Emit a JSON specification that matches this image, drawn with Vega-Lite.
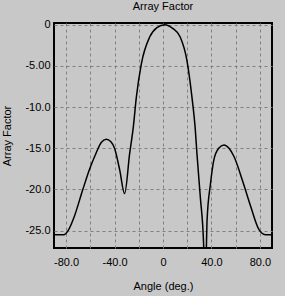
{
  "$schema": "https://vega.github.io/schema/vega-lite/v6.json",
  "width": 218,
  "height": 225,
  "autosize": {"type": "none"},
  "padding": {"left": 54, "top": 23, "right": 13, "bottom": 48},
  "background": "#c8c8c8",
  "title": {"text": "Array Factor", "fontSize": 11, "font": "Liberation Sans", "fontWeight": "normal", "color": "#000000", "offset": 7},
  "data": {"values": [
    {"angle": -90, "af": -25.5},
    {"angle": -82, "af": -25.5},
    {"angle": -78, "af": -24.9},
    {"angle": -73.3, "af": -23.3},
    {"angle": -66.4, "af": -20.1},
    {"angle": -60.8, "af": -17.6},
    {"angle": -55.3, "af": -15.6},
    {"angle": -51, "af": -14.3},
    {"angle": -46.9, "af": -13.9},
    {"angle": -43, "af": -14.2},
    {"angle": -40, "af": -15.0},
    {"angle": -35.8, "af": -17.6},
    {"angle": -31.7, "af": -20.5},
    {"angle": -27.5, "af": -15.6},
    {"angle": -24.5, "af": -12.4},
    {"angle": -22, "af": -8.8},
    {"angle": -17.8, "af": -4.7},
    {"angle": -11, "af": -1.5},
    {"angle": -5, "af": -0.35},
    {"angle": 1.5, "af": 0},
    {"angle": 8, "af": -0.45},
    {"angle": 14.2, "af": -1.5},
    {"angle": 19.7, "af": -4.3},
    {"angle": 23.9, "af": -8.8},
    {"angle": 26.7, "af": -12.8},
    {"angle": 28, "af": -15.6},
    {"angle": 30.8, "af": -20.9},
    {"angle": 33.6, "af": -26.9},
    {"angle": 34.5, "af": -35},
    {"angle": 36.4, "af": -23.7},
    {"angle": 39.2, "af": -19.3},
    {"angle": 42, "af": -16.4},
    {"angle": 46, "af": -15.0},
    {"angle": 50.3, "af": -14.6},
    {"angle": 54.5, "af": -15.0},
    {"angle": 58.6, "af": -16.0},
    {"angle": 65.6, "af": -18.9},
    {"angle": 72.5, "af": -22.1},
    {"angle": 79.4, "af": -24.9},
    {"angle": 85, "af": -25.5},
    {"angle": 90, "af": -25.5}
  ]},
  "mark": {"type": "line", "color": "#000000", "strokeWidth": 1.5, "clip": true, "interpolate": "monotone"},
  "encoding": {
    "x": {
      "field": "angle", "type": "quantitative",
      "scale": {"domain": [-90, 90], "nice": false, "zero": false},
      "axis": {
        "title": "Angle (deg.)",
        "values": [-80, -60, -40, -20, 0, 20, 40, 60, 80],
        "labelExpr": "datum.value % 40 == 0 ? (datum.value == 0 ? '0' : (datum.value < 0 ? '-' : '') + format(abs(datum.value), '.1f')) : ''",
        "ticks": false, "domain": false,
        "labelPadding": 8, "titlePadding": 13
      }
    },
    "y": {
      "field": "af", "type": "quantitative",
      "scale": {"domain": [-27.1, 0.2], "nice": false, "zero": false},
      "axis": {
        "title": "Array Factor",
        "values": [0, -5, -10, -15, -20, -25],
        "labelExpr": "datum.value == 0 ? '0' : datum.value == -5 ? '-5.00' : '-' + format(abs(datum.value), '.1f')",
        "ticks": false, "domain": false,
        "labelPadding": 4,
        "titleX": -42
      }
    }
  },
  "config": {
    "view": {"stroke": "#000000", "strokeWidth": 2, "fill": "#c8c8c8"},
    "axis": {
      "labelFont": "Liberation Sans", "labelFontSize": 11, "labelColor": "#000000",
      "titleFont": "Liberation Sans", "titleFontSize": 11, "titleFontWeight": "normal", "titleColor": "#000000",
      "gridColor": "#808080", "gridDash": [3, 3], "gridWidth": 1, "gridOpacity": 1
    }
  }
}
